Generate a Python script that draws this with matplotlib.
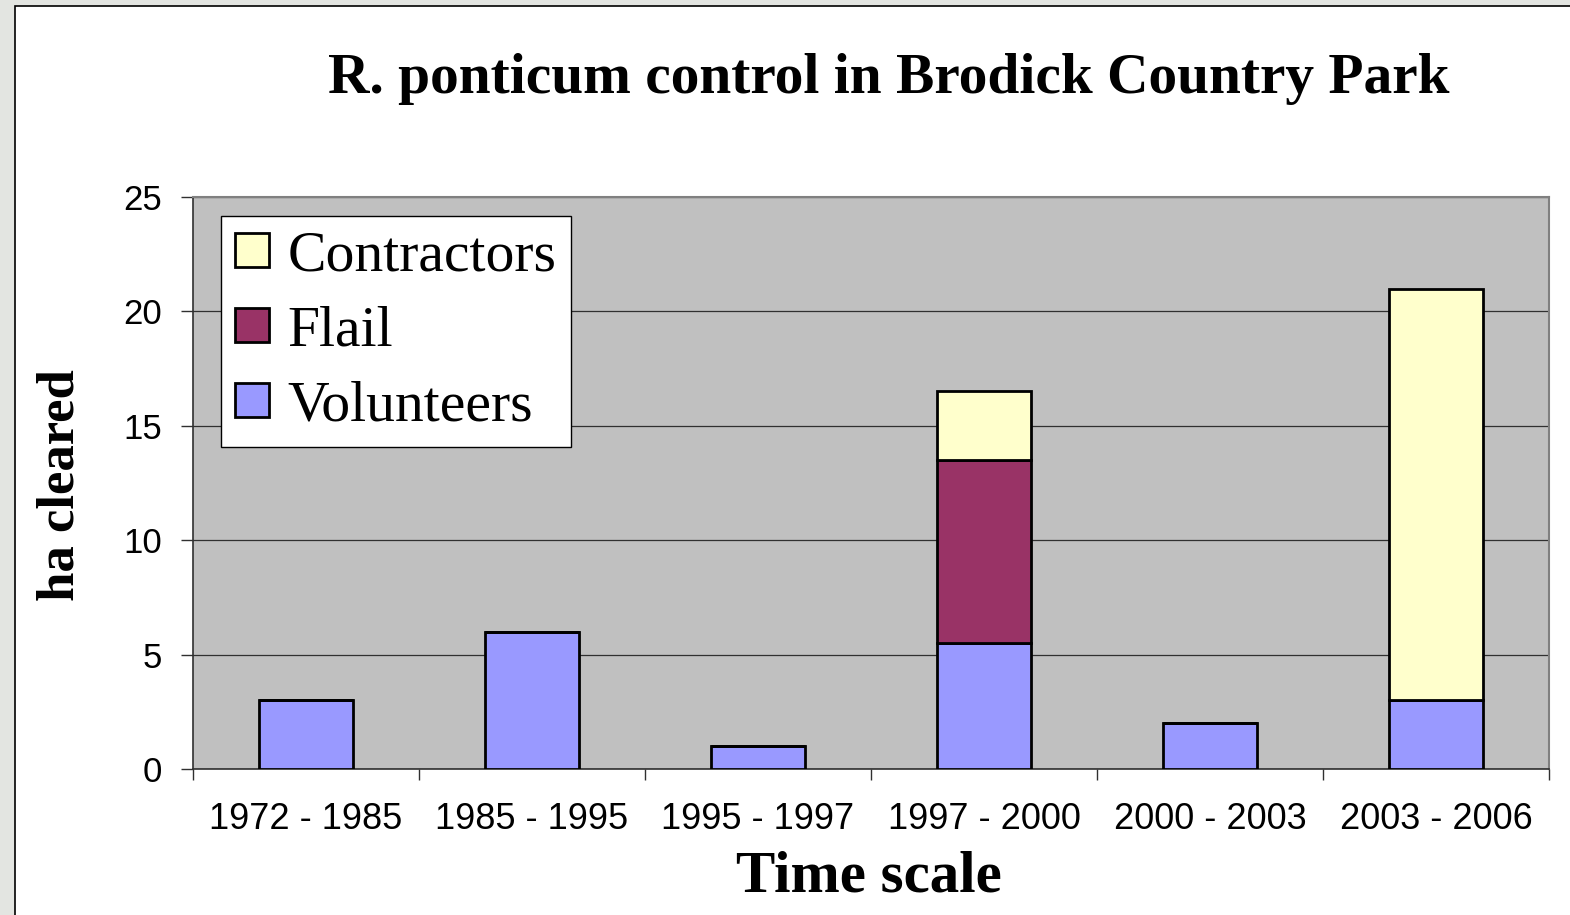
import matplotlib
matplotlib.use("Agg")
import matplotlib.pyplot as plt
from matplotlib.patches import Rectangle, Patch
import numpy as np

# data (ha cleared)
periods = ["1972 - 1985", "1985 - 1995", "1995 - 1997",
           "1997 - 2000", "2000 - 2003", "2003 - 2006"]
volunteers = [3, 6, 1, 5.5, 2, 3]
flail = [0, 0, 0, 8, 0, 0]
contractors = [0, 0, 0, 3, 0, 18]

c_vol = "#9999ff"
c_flail = "#993366"
c_contr = "#ffffcc"

W, H = 1570, 915
fig = plt.figure(figsize=(W / 100, H / 100), dpi=100)
fig.patch.set_facecolor("#e3e5e1")

# white slide panel with black border
fig.patches.append(Rectangle((14.5 / W, -0.05), 1.1, 1 - 6 / H + 0.05,
                             transform=fig.transFigure, facecolor="white",
                             edgecolor="black", linewidth=1.2, zorder=-10))

ax = fig.add_axes([193 / W, 1 - 769 / H, (1549 - 193) / W, (769 - 197) / H])
ax.set_facecolor("#c0c0c0")

x = np.arange(len(periods))
bw = 0.42
kw = dict(width=bw, edgecolor="black", linewidth=2, zorder=3)
ax.bar(x, volunteers, color=c_vol, **kw)
ax.bar(x, flail, bottom=volunteers, color=c_flail, **kw)
bottom2 = np.array(volunteers) + np.array(flail)
ax.bar(x, contractors, bottom=bottom2, color=c_contr, **kw)

ax.set_xlim(-0.5, len(periods) - 0.5)
ax.set_ylim(0, 25)
ax.set_yticks(range(0, 26, 5))
ax.yaxis.grid(True, color="#303030", linewidth=0.9, zorder=1)
ax.set_axisbelow(True)

ax.set_xticks(x)
ax.set_xticklabels(periods, fontsize=26, family="Liberation Sans")
ax.set_xticks(np.arange(-0.5, len(periods)), minor=True)
ax.tick_params(axis="x", which="major", length=0, pad=24)
ax.tick_params(axis="x", which="minor", length=8, width=1, color="#303030")
ax.tick_params(axis="y", length=9, width=1, color="#303030", pad=13)
for lab in ax.get_yticklabels():
    lab.set_fontsize(25)
    lab.set_family("Liberation Sans")

for s in ["top", "right"]:
    ax.spines[s].set_color("#808080")
    ax.spines[s].set_linewidth(1.5)
for s in ["left", "bottom"]:
    ax.spines[s].set_color("#303030")
    ax.spines[s].set_linewidth(1.2)

handles = [Patch(facecolor=c_contr, edgecolor="black", linewidth=2, label="Contractors"),
           Patch(facecolor=c_flail, edgecolor="black", linewidth=2, label="Flail"),
           Patch(facecolor=c_vol, edgecolor="black", linewidth=2, label="Volunteers")]
leg = ax.legend(handles=handles, loc="upper left",
                bbox_to_anchor=((221 - 193) / (1549 - 193), 1 - (216 - 197) / (769 - 197)),
                prop={"family": "Liberation Serif", "size": 41.5},
                frameon=True, fancybox=False, framealpha=1, edgecolor="black",
                handlelength=0.58, handleheight=0.55, handletextpad=0.33,
                labelspacing=0.4, borderpad=0.25, borderaxespad=0)
leg.get_frame().set_linewidth(1)

fig.text(888.5 / W, 1 - 93 / H, "R. ponticum control in Brodick Country Park",
         ha="center", va="baseline", fontsize=41.3, fontweight="bold",
         family="Liberation Serif")
fig.text(869 / W, 1 - 891 / H, "Time scale", ha="center", va="baseline",
         fontsize=42.5, fontweight="bold", family="Liberation Serif")
fig.text(61 / W, 1 - 485 / H, "ha cleared", ha="center", va="center",
         rotation=90, fontsize=38, fontweight="bold", family="Liberation Serif")

fig.savefig("out.png", dpi=100, facecolor=fig.get_facecolor())
